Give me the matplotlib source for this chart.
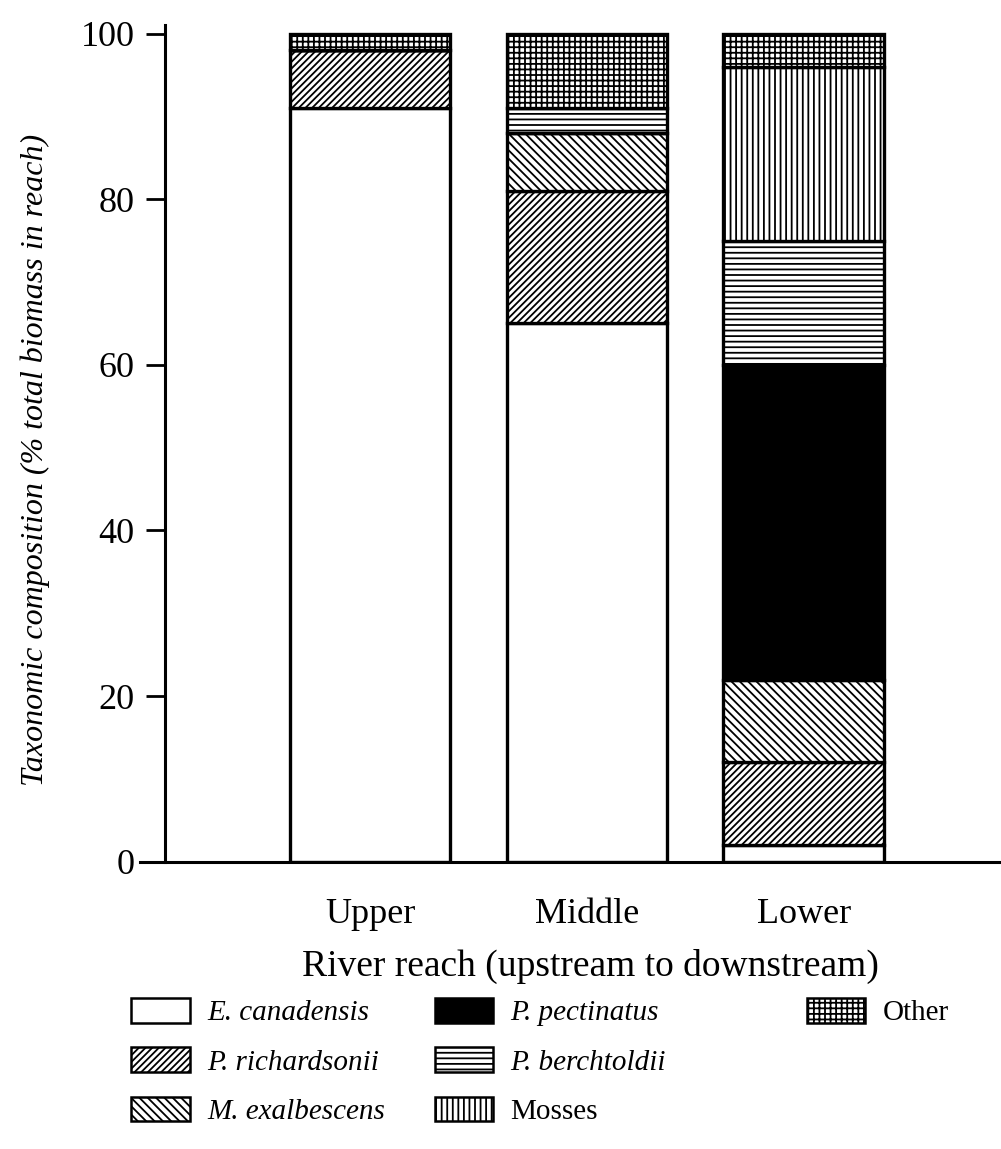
import numpy as np
import matplotlib.pyplot as plt
import matplotlib.patches as mpatches

# dados (% da biomassa total em cada trecho)
trechos = ['Upper', 'Middle', 'Lower']
taxons = ['E. canadensis', 'P. richardsonii', 'M. exalbescens', 'P. pectinatus',
          'P. berchtoldii', 'Mosses', 'Other']
e_canadensis = [91, 65, 2]
p_richardsonii = [7, 16, 10]
m_exalbescens = [0, 7, 10]
p_pectinatus = [0, 0, 38]
p_berchtoldii = [0, 3, 15]
mosses = [0, 0, 21]
other = [2, 9, 4]

series = [e_canadensis, p_richardsonii, m_exalbescens, p_pectinatus,
          p_berchtoldii, mosses, other]
# estilo de cada táxon: (cor de fundo, hachura)
estilos = [('white', ''), ('white', '/' * 5), ('white', '\\' * 4), ('black', ''),
           ('white', '-' * 3), ('white', '|' * 3), ('white', '+' * 3)]
italico = [True, True, True, True, True, False, False]

plt.rcParams['font.family'] = 'Liberation Serif'
plt.rcParams['hatch.linewidth'] = 1.3

fig = plt.figure(figsize=(10.01, 11.49), dpi=100)
ax = fig.add_axes([0.14, 0.25, 0.86, 0.728])

x = np.arange(len(trechos))
base = np.zeros(len(trechos))
for valores, (cor, hach) in zip(series, estilos):
    ax.bar(x, valores, bottom=base, width=0.74, color=cor, hatch=hach,
           edgecolor='black', linewidth=2.4)
    base += np.array(valores)

ax.set_xlim(-1.06, 2.91)
ax.set_ylim(0, 101)
ax.spines['top'].set_visible(False)
ax.spines['right'].set_visible(False)
ax.spines['left'].set_position(('axes', 0.029))
ax.spines['left'].set_linewidth(2.2)
ax.spines['bottom'].set_linewidth(2.2)
ax.set_yticks([0, 20, 40, 60, 80, 100])
ax.tick_params(axis='y', labelsize=26, length=14, width=2, direction='out', pad=8)
ax.set_xticks(x)
ax.set_xticklabels(trechos)
ax.tick_params(axis='x', labelsize=26, length=0, pad=26)
ax.set_xlabel('River reach (upstream to downstream)', fontsize=27)
ax.xaxis.set_label_coords(0.523, -0.104)
ax.set_ylabel('Taxonomic composition (% total biomass in reach)', fontsize=23,
              style='italic')
ax.yaxis.set_label_coords(-0.105, 0.48)

# legenda: duas primeiras colunas e "Other" à parte
handles = []
for (cor, hach) in estilos:
    handles.append(mpatches.Patch(facecolor=cor, hatch=hach, edgecolor='black', linewidth=1.8))
opcoes = dict(loc='upper left', frameon=False, fontsize=21, handlelength=2.0,
              handleheight=0.9, labelspacing=0.72, handletextpad=0.6)
leg = fig.legend(handles[:6], taxons[:6], ncol=2, bbox_to_anchor=(0.105, 0.154),
                 columnspacing=1.7, **opcoes)
for txt, it in zip(leg.get_texts(), italico[:6]):
    if it:
        txt.set_style('italic')
fig.legend(handles[6:], taxons[6:], bbox_to_anchor=(0.78, 0.154), **opcoes)

fig.savefig('out.png', dpi=100)
